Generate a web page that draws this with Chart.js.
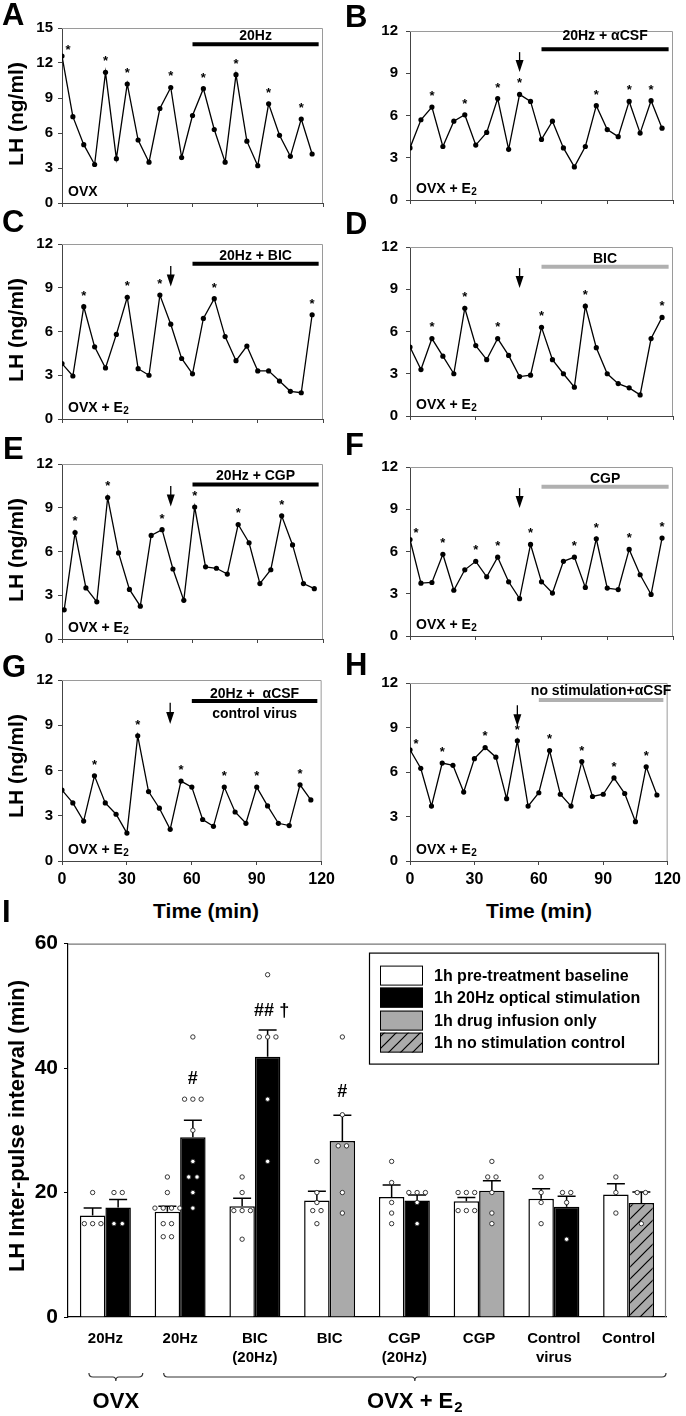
<!DOCTYPE html>
<html><head><meta charset="utf-8">
<script src="https://cdn.jsdelivr.net/npm/chart.js@4.4.1/dist/chart.umd.min.js"></script>
<style>
html,body{margin:0;padding:0;background:#fff;}
#page{position:relative;width:686px;height:1416px;overflow:hidden;font-family:'Liberation Sans',Arial,Helvetica,sans-serif;font-weight:bold;color:#000;background:#fff;}
canvas{position:absolute;}
.t{position:absolute;white-space:nowrap;line-height:1;}
.rot{transform:translate(-50%,-50%) rotate(-90deg);}
.ctr{transform:translate(-50%,-50%);}
</style></head><body><div id="page"></div>
<script>
// ---------------- DATA ----------------
const times  = [0,5,10,15,20,25,30,35,40,45,50,55,60,65,70,75,80,85,90,95,100,105,110,115];
const timesE = [1,6,11,16,21,26,31,36,41,46,51,56,61,66,71,76,81,86,91,96,101,106,111,116];
const xTicks = [0,30,60,90,120];

const lhA = [12.6,7.4,5.0,3.3,11.2,3.8,10.2,5.4,3.5,8.1,9.9,3.9,7.5,9.8,6.3,3.5,11.0,5.3,3.2,8.5,5.8,4.0,7.2,4.2];
const lhB = [3.7,5.7,6.6,3.8,5.6,6.05,3.9,4.8,7.2,3.6,7.5,7.0,4.3,5.6,3.7,2.35,3.8,6.7,5.0,4.5,7.0,4.75,7.05,5.1];
const lhC = [3.8,2.95,7.7,4.95,3.5,5.8,8.35,3.45,3.0,8.5,6.5,4.15,3.1,6.9,8.25,5.65,4.0,5.0,3.3,3.3,2.6,1.9,1.8,7.15];
const lhD = [4.9,3.3,5.5,4.25,3.0,7.65,5.0,4.0,5.5,4.3,2.8,2.9,6.3,4.0,3.0,2.05,7.8,4.85,3.0,2.3,2.0,1.5,5.5,7.0];
const lhE = [2.0,7.3,3.5,2.55,9.7,5.9,3.4,2.25,7.1,7.5,4.8,2.65,9.05,4.95,4.85,4.45,7.85,6.6,3.8,4.75,8.45,6.45,3.8,3.45];
const lhF = [6.85,3.75,3.8,5.8,3.25,4.7,5.3,4.2,5.6,3.85,2.65,6.5,3.85,3.05,5.3,5.6,3.45,6.9,3.4,3.3,6.15,4.35,2.95,6.95];
const lhG = [4.7,3.85,2.65,5.65,3.85,3.1,1.85,8.3,4.6,3.5,2.1,5.3,4.9,2.75,2.3,4.9,3.25,2.5,4.9,3.65,2.5,2.35,5.05,4.05];
const lhH = [7.5,6.25,3.7,6.6,6.45,4.65,6.9,7.65,7.0,4.2,8.1,3.7,4.6,7.45,4.5,3.7,6.7,4.35,4.5,5.6,4.55,2.65,6.35,4.45];

const starsA = [0,4,6,10,13,16,19,22];
const starsB = [2,5,8,10,17,20,22];
const starsC = [2,6,9,14,23];
const starsD = [2,5,8,12,16,23];
const starsE = [1,4,9,12,16,20];
const starsF = [0,3,6,8,11,15,17,20,23];
const starsG = [3,7,11,15,18,22];
const starsH = [0,3,7,10,13,16,19,22];

const treatStart = 60, treatEnd = 118, arrowTime = 50;

// bar chart (panel I)
const groups = ['20Hz','20Hz',['BIC','(20Hz)'],'BIC',['CGP','(20Hz)'],'CGP',['Control','virus'],'Control'];
const baselineMean = [16.3,16.9,17.8,18.7,19.3,18.6,19.0,19.7];
const baselineSem  = [1.2,0.9,1.3,1.5,1.9,0.6,1.6,1.7];
const treatMean    = [17.6,28.9,41.8,28.3,18.7,20.3,17.7,18.3];
const treatSem     = [1.3,2.7,4.3,4.1,0.9,1.6,1.7,1.8];
const treatType    = ['stim','stim','stim','drug','stim','drug','stim','none'];
const baselinePts = [[20,15,15,15],[22.5,20,17.5,17.5,17.5,17.5,15,15,12.9,12.9],[22.5,20,17.1,17.1,17.1,12.5],[25,20,18.4,17.1,17.1,15],[25,21.6,18.4,16.7,15],[20,20,20,17.1,17.1,17.1],[22.5,20,18.4,15],[22.5,20,16.7]];
const treatPts    = [[20,20,15,15],[45,35,35,35,30,25,22.5,22.5,20,17.5],[55,45,45,45,35,25],[45,32.5,27.5,27.5,20,16.7],[20,20,20,18.4,15],[25,22.5,22.5,20,16.7,15],[20,20,18.4,12.5],[20,20,15]];
const sigText = ['','#','## \u2020','#','','','',''];
const sigY    = [null,38.2,49.2,36.1,null,null,null,null];
const legendLabels = ['1h pre-treatment baseline','1h 20Hz optical stimulation','1h drug infusion only','1h no stimulation control'];
const yTicksI = [0,20,40,60];

// ---------------- SETUP ----------------
const FONT = "'Liberation Sans', Arial, Helvetica, sans-serif";
Chart.defaults.font.family = FONT;
Chart.defaults.font.weight = 'bold';
Chart.defaults.color = '#000';
const page = document.getElementById('page');

function addText(txt, x, y, size, cls) {
  const d = document.createElement('div');
  d.className = 't ' + (cls || '');
  d.style.left = x + 'px'; d.style.top = y + 'px'; d.style.fontSize = size + 'px';
  d.textContent = txt;
  page.appendChild(d);
}

const panelDecor = {
  id: 'panelDecor',
  afterDatasetsDraw(chart, args, o) {
    const {ctx, chartArea: a, scales: {x, y}} = chart;
    ctx.save();
    ctx.strokeStyle = '#9a9a9a'; ctx.lineWidth = 1;
    ctx.beginPath(); ctx.moveTo(a.left, a.top + 0.5); ctx.lineTo(a.right - 0.5, a.top + 0.5); ctx.lineTo(a.right - 0.5, a.bottom); ctx.stroke();
    const x1 = x.getPixelForValue(treatStart), x2 = x.getPixelForValue(treatEnd), ty = y.getPixelForValue(o.treatY);
    ctx.strokeStyle = o.treatColor; ctx.lineWidth = 4; ctx.lineCap = 'butt';
    ctx.beginPath(); ctx.moveTo(x1, ty); ctx.lineTo(x2, ty); ctx.stroke();
    ctx.fillStyle = '#000'; ctx.textAlign = 'center'; ctx.textBaseline = 'middle';
    ctx.font = 'bold 14px ' + FONT;
    ctx.fillText(o.treatLabel, (x1 + x2) / 2, ty - o.labelDy);
    if (o.treatBelow) ctx.fillText(o.treatBelow, (x1 + x2) / 2, ty + 13);
    if (o.arrow) {
      const ax = x.getPixelForValue(arrowTime), ay1 = y.getPixelForValue(10.5), ay2 = y.getPixelForValue(9.08);
      ctx.strokeStyle = '#000'; ctx.lineWidth = 1.3;
      ctx.beginPath(); ctx.moveTo(ax, ay1); ctx.lineTo(ax, ay2 - 10); ctx.stroke();
      ctx.beginPath(); ctx.moveTo(ax - 4, ay2 - 12); ctx.lineTo(ax + 4, ay2 - 12); ctx.lineTo(ax, ay2); ctx.closePath(); ctx.fill();
    }
    const meta = chart.getDatasetMeta(0);
    ctx.font = 'bold 13px ' + FONT; ctx.textBaseline = 'alphabetic';
    o.stars.forEach(i => {
      const p = meta.data[i];
      const first = o.t[i] === 0;
      ctx.fillText('*', p.x + (first ? 6 : 0), p.y - (first ? 9.5 : 14.5) + 7.4);
    });
    ctx.textAlign = 'left'; ctx.textBaseline = 'middle'; ctx.font = 'bold 14px ' + FONT;
    const gx = a.left + 6, gy = a.bottom - 11;
    ctx.fillText(o.group, gx, gy);
    if (o.sub) { const w = ctx.measureText(o.group).width; ctx.font = 'bold 10px ' + FONT; ctx.fillText(o.sub, gx + w + 0.5, gy + 3); }
    ctx.restore();
  }
};

const PLOT_H = 183;
const rowTops = [26, 242, 462, 678];
const cols = [
  {left: 0, width: 340, yW: 62, padR: 17, yPad: 5},
  {left: 343, width: 343, yW: 67, padR: 13, yPad: 8}
];

const panels = [
  {t: times,  v: lhA, stars: starsA, col: 0, row: 0, yMax: 15, treatLabel: '20Hz', treatColor: '#000', treatY: 13.6, labelDy: 8, arrow: false, group: 'OVX', sub: ''},
  {t: times,  v: lhB, stars: starsB, col: 1, row: 0, yMax: 12, treatLabel: '20Hz + \u03b1CSF', treatColor: '#000', treatY: 10.7, labelDy: 13, arrow: true, group: 'OVX + E', sub: '2'},
  {t: times,  v: lhC, stars: starsC, col: 0, row: 1, yMax: 12, treatLabel: '20Hz + BIC', treatColor: '#000', treatY: 10.65, labelDy: 8, arrow: true, group: 'OVX + E', sub: '2'},
  {t: times,  v: lhD, stars: starsD, col: 1, row: 1, yMax: 12, treatLabel: 'BIC', treatColor: '#b0b0b0', treatY: 10.6, labelDy: 8, arrow: true, group: 'OVX + E', sub: '2'},
  {t: timesE, v: lhE, stars: starsE, col: 0, row: 2, yMax: 12, treatLabel: '20Hz + CGP', treatColor: '#000', treatY: 10.6, labelDy: 8, arrow: true, group: 'OVX + E', sub: '2'},
  {t: times,  v: lhF, stars: starsF, col: 1, row: 2, yMax: 12, treatLabel: 'CGP', treatColor: '#b0b0b0', treatY: 10.6, labelDy: 8, arrow: true, group: 'OVX + E', sub: '2'},
  {t: times,  v: lhG, stars: starsG, col: 0, row: 3, yMax: 12, treatLabel: '20Hz +  \u03b1CSF', treatBelow: 'control virus', treatColor: '#000', treatY: 10.6, labelDy: 7, arrow: true, group: 'OVX + E', sub: '2', xLabels: true},
  {t: times,  v: lhH, stars: starsH, col: 1, row: 3, yMax: 12, treatLabel: 'no stimulation+\u03b1CSF', treatColor: '#b0b0b0', treatY: 10.85, labelDy: 9, arrow: true, group: 'OVX + E', sub: '2', xLabels: true}
];

panels.forEach(p => {
  const c = cols[p.col];
  const xH = p.xLabels ? 30 : 8;
  const cv = document.createElement('canvas');
  cv.width = c.width; cv.height = 12 + PLOT_H + xH;
  cv.style.left = c.left + 'px'; cv.style.top = (rowTops[p.row] - 12) + 'px';
  page.appendChild(cv);
  new Chart(cv, {
    type: 'line',
    data: {datasets: [{data: p.t.map((t, i) => ({x: t, y: p.v[i]})), borderColor: '#000', borderWidth: 1.3,
      pointRadius: 2.6, pointBackgroundColor: '#000', pointBorderWidth: 0, tension: 0}]},
    options: {
      responsive: false, animation: false, events: [],
      layout: {padding: {top: 12, right: c.padR, left: 0, bottom: 0}, autoPadding: false},
      plugins: {legend: {display: false}, tooltip: {enabled: false},
        panelDecor: {t: p.t, stars: p.stars, treatLabel: p.treatLabel, treatBelow: p.treatBelow, treatColor: p.treatColor,
          treatY: p.treatY, labelDy: p.labelDy, arrow: p.arrow, group: p.group, sub: p.sub}},
      scales: {
        x: {type: 'linear', min: 0, max: 120,
          afterBuildTicks: s => { s.ticks = xTicks.map(v => ({value: v})); },
          ticks: {display: !!p.xLabels, font: {size: 16, weight: 'bold'}, color: '#000', padding: 5, maxRotation: 0},
          grid: {drawOnChartArea: false, drawTicks: true, tickLength: 4, color: '#444'},
          border: {color: '#444', width: 1},
          afterFit: s => { s.height = xH; }},
        y: {min: 0, max: p.yMax,
          ticks: {stepSize: 3, font: {size: 15, weight: 'bold'}, color: '#000', padding: c.yPad},
          grid: {drawOnChartArea: false, drawTicks: true, tickLength: 4, color: '#444'},
          border: {color: '#444', width: 1},
          afterFit: s => { s.width = c.yW; }}
      }
    },
    plugins: [panelDecor]
  });
});

// ---------------- PANEL I ----------------
const cvI = document.createElement('canvas');
cvI.width = 686; cvI.height = 491; cvI.style.left = '0px'; cvI.style.top = '925px';
page.appendChild(cvI);
const ctxI = cvI.getContext('2d');
const tile = document.createElement('canvas'); tile.width = 12; tile.height = 12;
(function () {
  const g = tile.getContext('2d');
  g.fillStyle = '#aaaaaa'; g.fillRect(0, 0, 12, 12);
  g.strokeStyle = '#000'; g.lineWidth = 1.2; g.beginPath();
  g.moveTo(0, 12); g.lineTo(12, 0); g.moveTo(-3, 3); g.lineTo(3, -3); g.moveTo(9, 15); g.lineTo(15, 9);
  g.stroke();
})();
const hatchFill = ctxI.createPattern(tile, 'repeat');
const fills = {base: '#ffffff', stim: '#000000', drug: '#aaaaaa', none: hatchFill};
const treatColors = treatType.map(t => fills[t]);
const legendFills = [fills.base, fills.stim, fills.drug, fills.none];

const CAT_PCT = 0.682, PT_GAP_PX = 8.3;

function drawPoints(ctx, y, meta, ptsList) {
  meta.data.forEach((bar, i) => {
    const vals = ptsList[i];
    const grp = {}, order = [];
    vals.forEach(v => { const k = v.toFixed(2); if (!grp[k]) { grp[k] = []; order.push(k); } grp[k].push(v); });
    order.forEach(k => {
      const arr = grp[k];
      arr.forEach((v, j) => {
        const px = bar.x + (j - (arr.length - 1) / 2) * PT_GAP_PX, py = y.getPixelForValue(v);
        ctx.beginPath(); ctx.arc(px, py, 2.2, 0, Math.PI * 2);
        ctx.fillStyle = '#fff'; ctx.fill();
        ctx.strokeStyle = '#222'; ctx.lineWidth = 0.9; ctx.stroke();
      });
    });
  });
}

const barDecor = {
  id: 'barDecor',
  beforeDatasetsDraw(chart) {
    const {ctx, chartArea: a} = chart;
    ctx.save(); ctx.strokeStyle = '#777'; ctx.lineWidth = 1.2;
    ctx.beginPath(); ctx.moveTo(a.left, a.top + 0.5); ctx.lineTo(a.right - 0.5, a.top + 0.5); ctx.lineTo(a.right - 0.5, a.bottom); ctx.stroke();
    ctx.restore();
  },
  afterDatasetsDraw(chart) {
    const {ctx, scales: {y}} = chart;
    ctx.save();
    // error bars
    [0, 1].forEach(d => {
      const meta = chart.getDatasetMeta(d);
      const means = d === 0 ? baselineMean : treatMean;
      const sems = d === 0 ? baselineSem : treatSem;
      ctx.strokeStyle = '#000'; ctx.lineWidth = 1.5;
      meta.data.forEach((bar, i) => {
        const yt = y.getPixelForValue(means[i] + sems[i]);
        ctx.beginPath(); ctx.moveTo(bar.x, bar.y); ctx.lineTo(bar.x, yt);
        ctx.moveTo(bar.x - 9, yt); ctx.lineTo(bar.x + 9, yt); ctx.stroke();
      });
    });
    // individual animals
    drawPoints(ctx, y, chart.getDatasetMeta(0), baselinePts);
    drawPoints(ctx, y, chart.getDatasetMeta(1), treatPts);
    ctx.restore();
  },
  afterDraw(chart) {
    const {ctx, chartArea: a, scales: {x, y}} = chart;
    ctx.save();
    const tMeta = chart.getDatasetMeta(1);
    ctx.fillStyle = '#000'; ctx.textAlign = 'center'; ctx.textBaseline = 'middle';
    ctx.font = 'bold 18px ' + FONT;
    sigText.forEach((s, i) => { if (s) ctx.fillText(s, tMeta.data[i].x + (s.length > 2 ? 4 : 0), y.getPixelForValue(sigY[i])); });
    // legend
    const bw = 289, bh = 111, bx = a.right - 8 - bw, by = a.top + 9;
    ctx.fillStyle = '#fff'; ctx.fillRect(bx, by, bw, bh);
    ctx.strokeStyle = '#000'; ctx.lineWidth = 1.2; ctx.strokeRect(bx + 0.5, by + 0.5, bw, bh);
    const rowsY = [13, 35, 58, 80];
    ctx.font = 'bold 16px ' + FONT; ctx.textAlign = 'left';
    legendLabels.forEach((lab, i) => {
      const sy = by + rowsY[i];
      ctx.fillStyle = legendFills[i]; ctx.fillRect(bx + 11, sy, 43, 20);
      ctx.strokeStyle = '#000'; ctx.lineWidth = 1; ctx.strokeRect(bx + 11.5, sy + 0.5, 42, 19);
      ctx.fillStyle = '#000'; ctx.fillText(lab, bx + 65, sy + 10.5);
    });
    // brackets
    const cw = x.getPixelForValue(1) - x.getPixelForValue(0);
    const brackets = [{from: 0, to: 0, text: 'OVX', sub: ''}, {from: 1, to: 7, text: 'OVX + E', sub: '2'}];
    const byy = a.bottom + 60;
    ctx.strokeStyle = '#333'; ctx.lineWidth = 1.2;
    brackets.forEach(b => {
      const x1 = x.getPixelForValue(b.from) - 0.22 * cw, x2 = x.getPixelForValue(b.to) + 0.5 * cw, cx = (x1 + x2) / 2;
      ctx.beginPath();
      ctx.moveTo(x1, byy - 4); ctx.quadraticCurveTo(x1, byy, x1 + 4, byy);
      ctx.lineTo(cx - 3, byy); ctx.quadraticCurveTo(cx, byy, cx, byy + 4);
      ctx.moveTo(cx, byy + 4); ctx.quadraticCurveTo(cx, byy, cx + 3, byy);
      ctx.lineTo(x2 - 4, byy); ctx.quadraticCurveTo(x2, byy, x2, byy - 4);
      ctx.stroke();
      ctx.font = 'bold 22px ' + FONT; ctx.textAlign = 'left'; ctx.textBaseline = 'middle'; ctx.fillStyle = '#000';
      const w1 = ctx.measureText(b.text).width;
      ctx.font = 'bold 15px ' + FONT;
      const w2 = b.sub ? ctx.measureText(b.sub).width + 1 : 0;
      const sx = cx - (w1 + w2) / 2;
      ctx.font = 'bold 22px ' + FONT; ctx.fillText(b.text, sx, a.bottom + 85);
      if (b.sub) { ctx.font = 'bold 15px ' + FONT; ctx.fillText(b.sub, sx + w1 + 1, a.bottom + 91); }
    });
    ctx.restore();
  }
};

new Chart(cvI, {
  type: 'bar',
  data: {
    labels: groups,
    datasets: [
      {label: 'baseline', data: baselineMean, backgroundColor: fills.base, borderColor: '#000', borderWidth: 1.5,
        categoryPercentage: CAT_PCT, barPercentage: 1},
      {label: 'treatment', data: treatMean, backgroundColor: treatColors, borderColor: '#000', borderWidth: 1.5,
        categoryPercentage: CAT_PCT, barPercentage: 1}
    ]
  },
  options: {
    responsive: false, animation: false, events: [],
    datasets: {bar: {categoryPercentage: CAT_PCT, barPercentage: 1}},
    layout: {padding: {top: 15, right: 20, left: 0, bottom: 0}, autoPadding: false},
    plugins: {legend: {display: false}, tooltip: {enabled: false}},
    scales: {
      x: {type: 'category', offset: true,
        ticks: {font: {size: 15, weight: 'bold', lineHeight: 1.27}, color: '#000', padding: 12, maxRotation: 0, autoSkip: false},
        grid: {display: true, drawOnChartArea: false, drawTicks: false},
        border: {color: '#000', width: 1.2},
        afterFit: s => { s.height = 99; }},
      y: {min: 0, max: 60,
        afterBuildTicks: s => { s.ticks = yTicksI.map(v => ({value: v})); },
        ticks: {font: {size: 21, weight: 'bold'}, color: '#000', padding: 6},
        grid: {drawOnChartArea: false, drawTicks: true, tickLength: 4, color: '#000'},
        border: {color: '#000', width: 1.2},
        afterFit: s => { s.width = 68; }}
    }
  },
  plugins: [barDecor]
});

// ---------------- STATIC TEXT ----------------
[['A', 2, -1], ['B', 345, 1], ['C', 2, 206], ['D', 345, 208], ['E', 3, 433], ['F', 345, 429], ['G', 2, 651], ['H', 345, 649], ['I', 2, 896]]
  .forEach(l => addText(l[0], l[1], l[2], 31, ''));
rowTops.forEach(t => addText('LH (ng/ml)', 15, t + PLOT_H / 2 - 4, 21, 'rot'));
addText('Time (min)', 206, 910, 21, 'ctr');
addText('Time (min)', 539, 910, 21, 'ctr');
addText('LH Inter-pulse interval (min)', 17, 1126, 22, 'rot');
</script></body></html>
